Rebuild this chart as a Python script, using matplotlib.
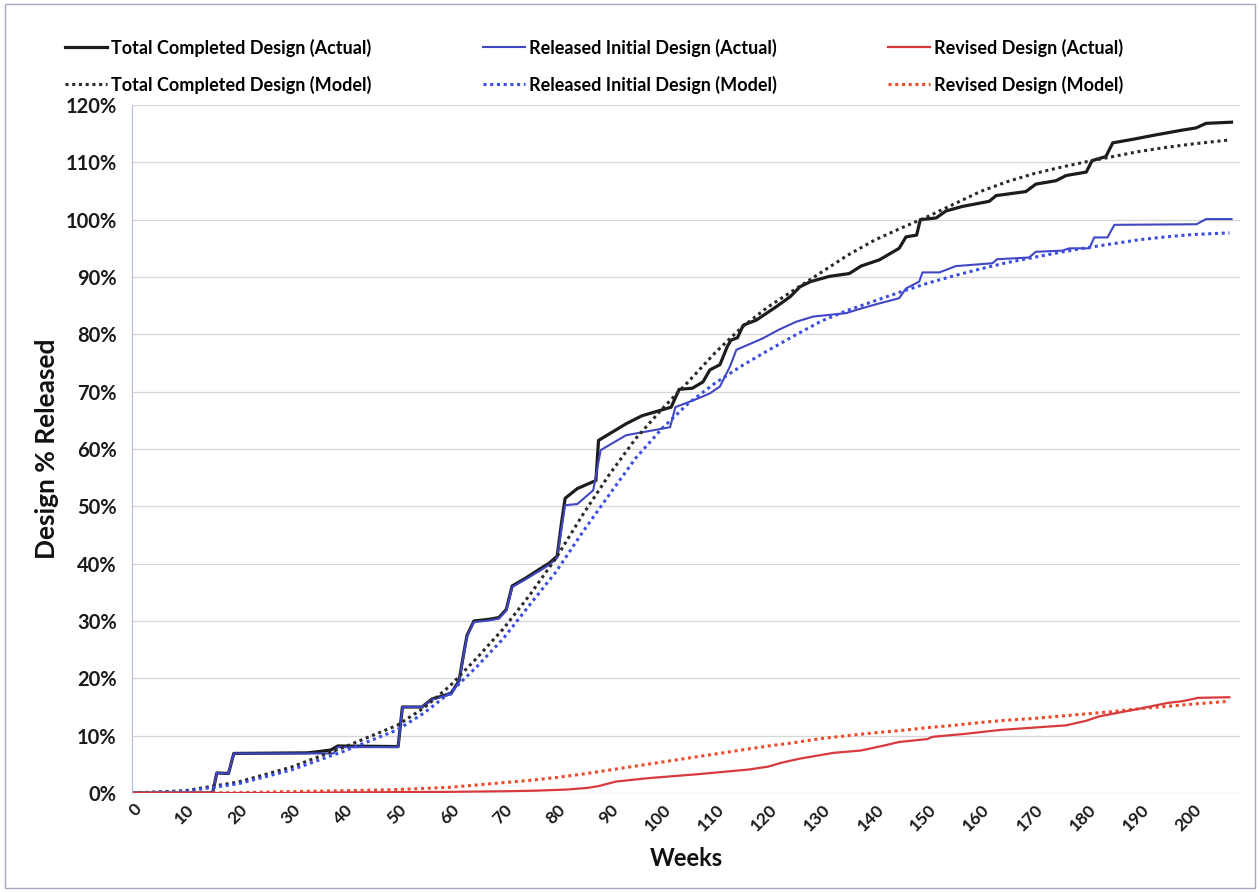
import matplotlib
matplotlib.use("Agg")
import matplotlib.pyplot as plt
from matplotlib.patches import Rectangle
from matplotlib.ticker import MultipleLocator, PercentFormatter
from matplotlib.transforms import ScaledTranslation

# Total Completed Design (Actual)
total_act_wk = [0, 15.2, 16.0, 18.2, 19.2, 33, 35, 37.5, 38.8, 50.2, 51.0, 54.7, 56.6, 58.5,
                60.2, 61.7, 62.6, 63.2, 64.5, 67.4, 69.2, 70.6, 71.7, 74.3, 76.8, 78.7, 80.2,
                81.0, 81.7, 84.0, 87.5, 88.0, 93.2, 96.2, 101.7, 103.2, 105.7, 107.7, 109,
                110.9, 112.3, 113, 114.2, 115.3, 117.8, 121.5, 124.2, 126, 128, 131.5, 135.3,
                137.5, 141, 144.7, 146, 148, 148.7, 151.7, 153.5, 156.6, 161.7, 163, 168.6,
                170.5, 174.3, 176.2, 180, 181.1, 183.7, 185, 188.7, 193.2, 198, 200.7, 202.6,
                207.4]
total_act = [0, 0, 3.5, 3.4, 6.9, 7.0, 7.2, 7.5, 8.2, 8.1, 15.0, 15.0, 16.4, 16.9,
             17.4, 19.6, 24.5, 27.5, 30.0, 30.3, 30.6, 32.0, 36.1, 37.5, 39.0, 40.1, 41.3,
             47.0, 51.4, 53.1, 54.5, 61.5, 64.4, 65.8, 67.3, 70.4, 70.6, 71.7, 73.8,
             74.7, 77.9, 79.0, 79.4, 81.6, 82.5, 84.8, 86.6, 88.3, 89.2, 90.1, 90.6,
             91.9, 93.0, 95.0, 97.0, 97.3, 100.0, 100.3, 101.5, 102.3, 103.2, 104.2, 104.9,
             106.2, 106.8, 107.7, 108.3, 110.3, 111.0, 113.4, 114.0, 114.8, 115.6, 116.0, 116.8,
             117.0]

# Released Initial Design (Actual)
released_act_wk = [0, 15.2, 16.0, 18.2, 19.2, 38.0, 38.8, 50.2, 51.0, 54.7, 56.6, 58.5,
                   60.2, 61.7, 62.6, 63.2, 64.5, 67.4, 69.2, 70.6, 71.7, 74.3, 76.8, 78.7,
                   80.2, 81.0, 81.7, 84, 87, 88.4, 93.2, 101.5, 102.5, 107, 109, 110.9,
                   112.8, 114, 116, 119, 122, 125.3, 128.5, 134.7, 137.5, 141, 144.7, 146,
                   148.5, 149.1, 152.3, 155.4, 162.3, 163.2, 169.2, 170.5, 175.5, 176.8,
                   180.6, 181.5, 184, 185.3, 200.8, 202.6, 207.4]
released_act = [0, 0, 3.5, 3.4, 6.9, 6.9, 8.0, 8.0, 15.0, 15.0, 16.3, 16.8,
                17.2, 19.4, 24.3, 27.3, 29.8, 30.1, 30.4, 31.8, 35.9, 37.3, 38.7, 39.8,
                41.0, 46.0, 50.2, 50.4, 52.8, 59.8, 62.4, 63.8, 67.3, 68.9, 69.7, 70.9,
                74.4, 77.3, 78.1, 79.3, 80.8, 82.2, 83.1, 83.7, 84.5, 85.4, 86.3, 88.0,
                89.2, 90.8, 90.8, 91.9, 92.4, 93.1, 93.4, 94.4, 94.6, 95.0,
                95.0, 96.9, 96.9, 99.1, 99.2, 100.1, 100.1]

# Revised Design (Actual)
revised_act_wk = [0, 30, 40, 50, 60, 70, 76, 82, 86, 88, 91.3, 97.5, 107, 116.4, 120, 122.6,
                  126, 132.3, 137.4, 141.5, 144.7, 150, 151, 157, 163.8, 170, 176.2, 180,
                  182.6, 188.9, 195.3, 198, 200.2, 201, 207]
revised_act = [0, 0, 0.1, 0.15, 0.2, 0.3, 0.4, 0.6, 0.9, 1.2, 2.0, 2.6, 3.3, 4.1, 4.6, 5.3,
               6.0, 7.0, 7.4, 8.2, 8.9, 9.4, 9.8, 10.3, 11.0, 11.4, 11.8, 12.6,
               13.4, 14.5, 15.7, 16.0, 16.4, 16.6, 16.7]

# model curves, read every 5-10 weeks
model_wk = [0, 10, 20, 30, 40, 50, 55, 60, 65, 70, 75, 80, 85, 90, 95, 100, 105, 110, 115,
            120, 125, 130, 135, 140, 145, 150, 155, 160, 165, 170, 175, 180, 185, 190,
            195, 200, 207]
total_model = [0, 0.4, 1.9, 4.5, 8.0, 11.8, 14.8, 18.7, 23.5, 28.6, 34.5, 41.0, 48.5, 55.5,
               61.8, 67.0, 71.8, 76.8, 81.2, 84.8, 87.8, 90.8, 93.8, 96.4, 98.5, 100.5, 102.7,
               104.9, 106.6, 108.0, 109.1, 110.1, 111.0, 111.9, 112.6, 113.2, 113.9]
released_model = [0, 0.3, 1.6, 4.0, 7.3, 11.0, 13.9, 17.5, 22.0, 26.9, 32.8, 38.6, 45.5, 52.0,
                  58.4, 63.6, 68.0, 71.5, 74.5, 77.2, 79.8, 82.3, 84.2, 85.8, 87.4, 88.9, 90.2,
                  91.4, 92.5, 93.4, 94.3, 95.1, 95.8, 96.5, 97.0, 97.4, 97.7]
revised_model = [0, 0.0, 0.05, 0.25, 0.4, 0.6, 0.8, 1.0, 1.4, 1.8, 2.2, 2.7, 3.3, 4.0,
                 4.7, 5.4, 6.1, 6.8, 7.5, 8.2, 8.8, 9.5, 10.0, 10.5, 10.9, 11.4, 11.8,
                 12.3, 12.7, 13.0, 13.4, 13.8, 14.2, 14.7, 15.1, 15.5, 16.0]

plt.rcParams['font.family'] = ['Lato', 'DejaVu Sans']
plt.rcParams['font.weight'] = 'bold'

fig = plt.figure(figsize=(12.6, 8.92), dpi=100)
ax = fig.add_axes([132 / 1260, 1 - 793 / 892, 1108 / 1260, 688 / 892])

l1, = ax.plot(total_act_wk, total_act, color='#1c1c1c', lw=2.3, label='Total Completed Design (Actual)')
l2, = ax.plot(released_act_wk, released_act, color='#4146c2', lw=1.5, label='Released Initial Design (Actual)')
l4, = ax.plot(model_wk, total_model, color='#2a2a2a', lw=2.2, ls=(0, (1, 1.2)), label='Total Completed Design (Model)')
l5, = ax.plot(model_wk, released_model, color='#3a4ee0', lw=2.2, ls=(0, (1, 1.2)), label='Released Initial Design (Model)')
l6, = ax.plot(model_wk, revised_model, color='#ee4a2c', lw=2.2, ls=(0, (1, 1.2)), label='Revised Design (Model)')
l3, = ax.plot(revised_act_wk, revised_act, color='#d8393c', lw=1.6, label='Revised Design (Actual)')

ax.set_xlim(0, 209)
ax.set_ylim(0, 120)
ax.xaxis.set_major_locator(MultipleLocator(10))
ax.yaxis.set_major_locator(MultipleLocator(10))
ax.yaxis.set_major_formatter(PercentFormatter(100, decimals=0))
ax.yaxis.grid(True, color='#d6d6d6', lw=0.9)
ax.set_axisbelow(True)
for s in ['top', 'right', 'bottom']:
    ax.spines[s].set_visible(False)
ax.spines['left'].set_color('#b4bce0')
ax.spines['left'].set_linewidth(0.8)

ax.tick_params(axis='y', length=0, labelsize=14.5, colors='#1a1a1a', pad=11)
ax.tick_params(axis='x', length=0, labelsize=12.5, colors='#1a1a1a', pad=10)
shift = ScaledTranslation(7 / 100, 0, fig.dpi_scale_trans)
for lab in ax.get_xticklabels():
    lab.set_rotation(45)
    lab.set_ha('right')
    lab.set_va('center')
    lab.set_rotation_mode('anchor')
    lab.set_fontweight('bold')
    lab.set_transform(lab.get_transform() + shift)
for lab in ax.get_yticklabels():
    lab.set_fontweight('bold')

ax.set_ylabel('Design % Released', fontsize=19, fontweight='bold', color='#111111')
ax.yaxis.set_label_coords(-0.066, 0.5)
ax.set_xlabel('Weeks', fontsize=17, fontweight='bold', color='#111111')
ax.xaxis.set_label_coords(0.5, -0.078)

# legend: three columns, placed one by one
cols = [(l1, l4, 65), (l2, l5, 483), (l3, l6, 888)]
for a, b, x in cols:
    fig.legend(handles=[a, b], loc='center left', bbox_to_anchor=(x / 1260, 1 - 66 / 892),
               frameon=False, borderpad=0, borderaxespad=0, handlelength=2.3,
               handletextpad=0.25, labelspacing=1.05, prop={'size': 13, 'weight': 'bold'})

fig.patches.append(Rectangle((0.004, 0.004), 0.992, 0.992, transform=fig.transFigure,
                             fill=False, edgecolor='#a4a8bc', lw=1))

fig.savefig('out.png', dpi=100)
